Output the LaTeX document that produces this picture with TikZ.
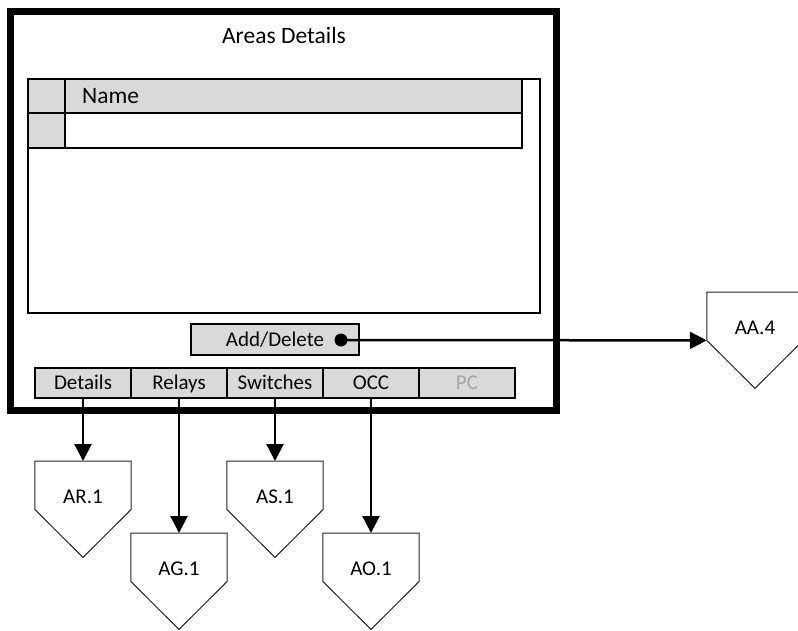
\documentclass[tikz,border=0pt]{standalone}
\usepackage{fontspec}
\setmainfont{Carlito}
\usetikzlibrary{arrows.meta,calc}
\definecolor{cellgray}{HTML}{D9D9D9}
\definecolor{pcgray}{HTML}{A6A6A6}
\newcommand\pentlabel[1]{\raisebox{-18.5pt}[0pt][0pt]{#1}}
\begin{document}
\begin{tikzpicture}[x=1pt,y=-1pt,
  bigtxt/.style={font=\fontsize{23.5}{28}\selectfont, inner sep=0pt},
  smalltxt/.style={font=\fontsize{21}{25}\selectfont},
  tabbox/.style={smalltxt, draw=black, line width=2pt, fill=cellgray, minimum width=96pt, minimum height=30pt, inner sep=0pt, text height=13.5pt, text depth=0pt},
  btnbox/.style={smalltxt, draw=black, line width=2pt, fill=cellgray, minimum width=168pt, minimum height=31pt, inner sep=0pt, text height=13.5pt, text depth=0pt},
  dotnode/.style={circle, fill=black, minimum size=13pt, inner sep=0pt},
  pentnode/.style={smalltxt, minimum width=96pt, minimum height=48pt, inner sep=0pt, anchor=north},
  pentline/.style={draw=black!85, line width=1pt, line join=miter},
  conn/.style={line width=2.5pt, -{Triangle[length=17pt,width=17pt]}},
  tbl/.style={line width=2pt}
]
\useasboundingbox (0,0) rectangle (798,631);

% outer frame
\draw[line width=7pt] (10,12) rectangle (556.5,410);
\node[bigtxt] (title) at (284,35) {Areas Details};

% table
\draw[tbl] (28,79) rectangle (540,313);
\fill[cellgray] (28,79) rectangle (522,113);
\fill[cellgray] (28,113) rectangle (65,148);
\draw[tbl] (28,79) rectangle (522,148);
\draw[tbl] (28,113) -- (522,113);
\draw[tbl] (65,79) -- (65,148);
\node[bigtxt, anchor=west] (name) at (82,96) {Name};

% button
\node[btnbox] (btn) at (275,339.5) {Add/Delete};
\node[dotnode] (dot) at (341,340) {};

% tabs
\node[tabbox] (details) at (83,382.5) {Details};
\node[tabbox] (relays) at (179,382.5) {Relays};
\node[tabbox] (switches) at (275,382.5) {Switches};
\node[tabbox] (occ) at (371,382.5) {OCC};
\node[tabbox, text=pcgray] (pc) at (467,382.5) {PC};

% pentagons
\node[pentnode] (ar) at (83,461) {\pentlabel{AR.1}};
\node[pentnode] (ag) at (179,533) {\pentlabel{AG.1}};
\node[pentnode] (as) at (275,461) {\pentlabel{AS.1}};
\node[pentnode] (ao) at (371,533) {\pentlabel{AO.1}};
\node[pentnode] (aa) at (755,292) {\pentlabel{AA.4}};
\foreach \n in {ar,ag,as,ao,aa}
  \draw[pentline] (\n.north west) -- (\n.north east) -- (\n.south east)
    -- ($(\n.south)+(0,48)$) -- (\n.south west) -- cycle;

% connectors
\draw[conn] (details.south) -- (ar.north);
\draw[conn] (relays.south) -- (ag.north);
\draw[conn] (switches.south) -- (as.north);
\draw[conn] (occ.south) -- (ao.north);
\draw[conn] (dot.center) -- (aa.south west);
\end{tikzpicture}
\end{document}
